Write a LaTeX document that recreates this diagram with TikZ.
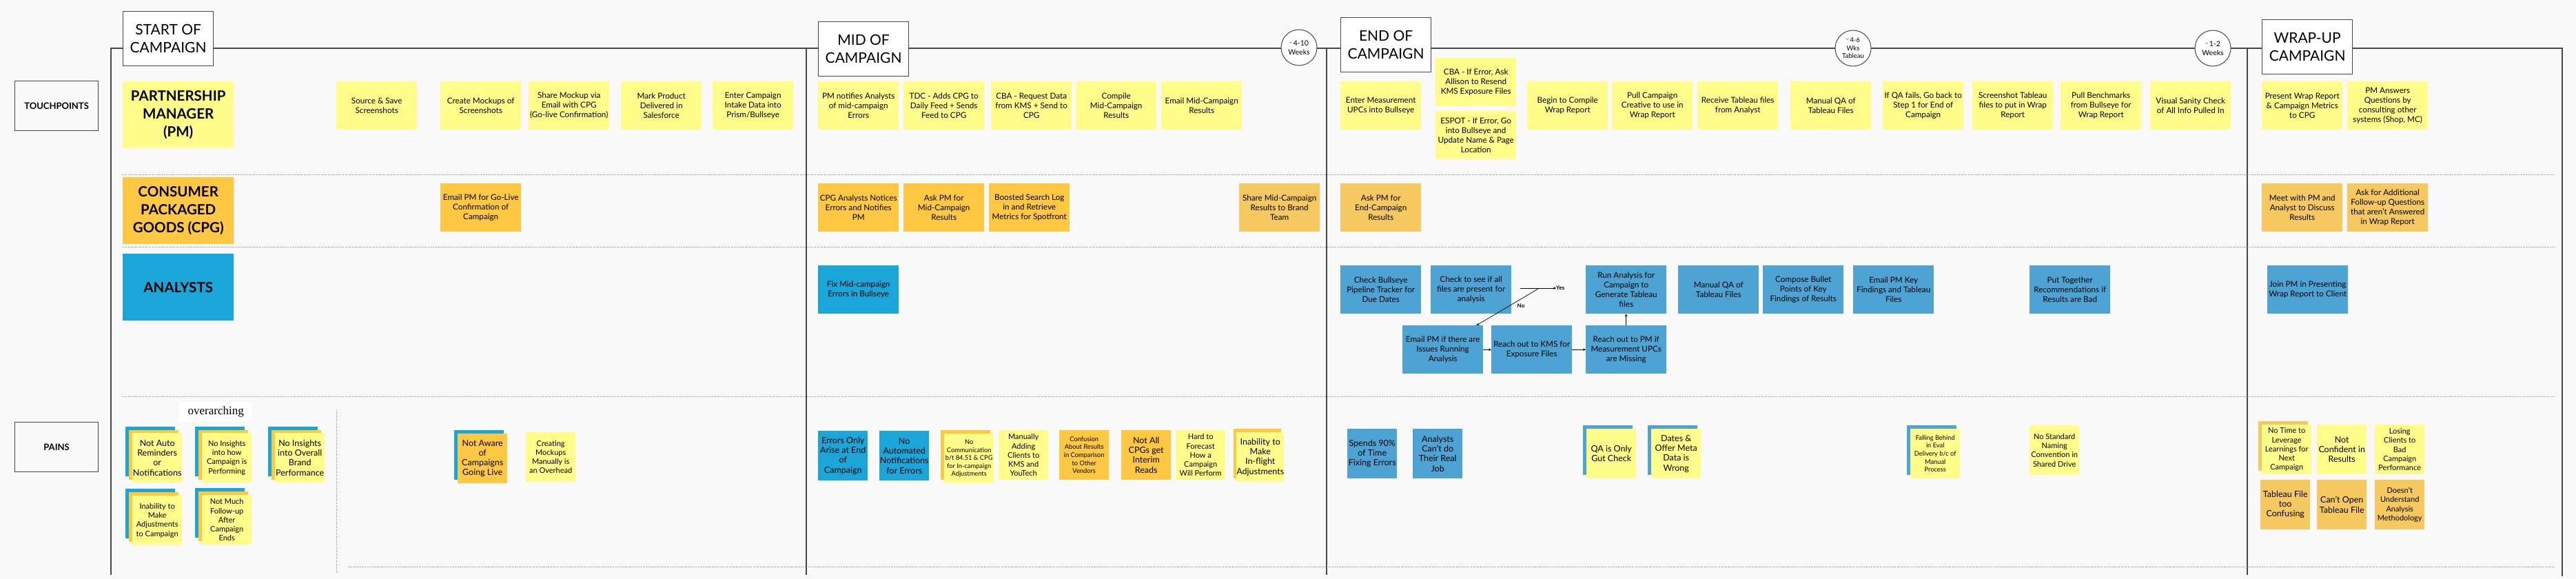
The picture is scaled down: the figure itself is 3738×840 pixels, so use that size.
\documentclass[tikz,border=0pt]{standalone}
\usepackage{fontspec}
\setmainfont{Lato}
\newfontfamily\notefont{Liberation Serif}
\usetikzlibrary{positioning}
\definecolor{pmyellow}{HTML}{FFFC8A}
\definecolor{cpgorange}{HTML}{FFC843}
\definecolor{cpgsoft}{HTML}{F5C960}
\definecolor{anblue}{HTML}{1BA6D9}
\definecolor{ansoft}{HTML}{4DA4D4}
\definecolor{canvas}{HTML}{F9F9F9}
\definecolor{ink}{HTML}{474747}

\begin{document}
\begin{tikzpicture}[x=1pt,y=-1pt,every node/.style={inner sep=0pt,align=center,text=black},
  stk/.style={anchor=north west,minimum width=117pt,minimum height=70pt,font=\fontsize{11.7}{14}\selectfont},
  rolebox/.style={anchor=north west,minimum width=161pt,minimum height=97pt,font=\fontsize{20.5}{26}\selectfont\bfseries},
  pain/.style={anchor=north west,minimum width=72pt,minimum height=72pt,font=\fontsize{11}{13.2}\selectfont},
  painL/.style={pain,font=\fontsize{12.5}{14.3}\selectfont},
  painS/.style={pain,font=\fontsize{9.3}{11.6}\selectfont},
  pmfill/.style={fill=pmyellow},cpgfill/.style={fill=cpgorange},cpgsoftfill/.style={fill=cpgsoft},
  anfill/.style={fill=anblue},ansoftfill/.style={fill=ansoft},
  phasebox/.style={anchor=north west,draw=ink,line width=1.2pt,fill=white,minimum width=131pt,minimum height=79pt,font=\fontsize{21}{26}\selectfont},
  lanebox/.style={anchor=north west,draw=ink,line width=1.1pt,minimum width=121pt,minimum height=72pt,font=\fontsize{13}{15}\selectfont\bfseries},
  wk/.style={circle,draw=ink,line width=1pt,fill=white,minimum size=52pt,font=\fontsize{10.5}{12.5}\selectfont},
  lanesep/.style={ink!70,dash pattern=on 1.2pt off 1.3pt,line width=0.9pt},
  rail/.style={ink,line width=1.2pt},
  arr/.style={->,>=stealth,line width=0.7pt,black},
  flag/.style={font=\fontsize{8}{9}\selectfont\bfseries}]
\fill[canvas] (0,0) rectangle (3738,840);
\useasboundingbox (0,0) rectangle (3738,840);

% timeline and phase columns
\draw[rail] (161,834) -- (161,70) -- (3718,70) -- (3718,836);
\draw[rail] (1170,70) -- (1170,834);
\draw[rail] (1925,70) -- (1925,834);
\draw[rail] (3261,70) -- (3261,834);

% lane separators
\draw[lanesep] (178,253) -- (3706,253);
\draw[lanesep] (178,358) -- (3706,358);
\draw[lanesep] (178,575) -- (3706,575);
\draw[lanesep] (505,822) -- (3706,822);
\draw[lanesep] (488,595) -- (488,832);

\node[phasebox] (start) at (178,16) {START OF\\CAMPAIGN};
\node[phasebox] (mid) at (1187,31) {MID OF\\CAMPAIGN};
\node[phasebox] (end) at (1945,25) {END OF\\CAMPAIGN};
\node[phasebox] (wrap) at (3282,28) {WRAP-UP\\CAMPAIGN};
\node[wk] (w1) at (1885,69) {\raisebox{2pt}{\fontsize{7}{7}\selectfont\textasciitilde}\,4-10\\Weeks};
\node[wk,font=\fontsize{9.5}{11.5}\selectfont] (w2) at (2689,70) {\raisebox{2pt}{\fontsize{7}{7}\selectfont\textasciitilde}\,4-6\\Wks\\Tableau};
\node[wk] (w3) at (3211,70) {\raisebox{2pt}{\fontsize{7}{7}\selectfont\textasciitilde}\,1-2\\Weeks};

\node[lanebox] (touch) at (21,117) {TOUCHPOINTS};
\node[lanebox] (pains) at (21,612) {PAINS};
\node[rolebox,pmfill] (rpm) at (178,118) {PARTNERSHIP\\MANAGER\\(PM)};
\node[rolebox,cpgfill] (rcpg) at (178,257) {CONSUMER\\PACKAGED\\GOODS (CPG)};
\node[rolebox,anfill] (ran) at (178,368) {ANALYSTS};

% partnership manager
\node[stk,pmfill] (pm1) at (488,118) {Source \& Save\\Screenshots};
\node[stk,pmfill] (pm2) at (639,118) {Create Mockups of\\Screenshots};
\node[stk,pmfill] (pm3) at (767,118) {Share Mockup via\\Email with CPG\\(Go-live Confirmation)};
\node[stk,pmfill] (pm4) at (901,118) {Mark Product\\Delivered in\\Salesforce};
\node[stk,pmfill] (pm5) at (1034,118) {Enter Campaign\\Intake Data into\\Prism/Bullseye};
\node[stk,pmfill] (pm6) at (1187,118) {PM notifies Analysts\\of mid-campaign\\Errors};
\node[stk,pmfill] (pm7) at (1311,118) {TDC - Adds CPG to\\Daily Feed + Sends\\Feed to CPG};
\node[stk,pmfill] (pm8) at (1438,118) {CBA - Request Data\\from KMS + Send to\\CPG};
\node[stk,pmfill] (pm9) at (1561,118) {Compile\\Mid-Campaign\\Results};
\node[stk,pmfill] (pm10) at (1685,118) {Email Mid-Campaign\\Results};
\node[stk,pmfill] (pm11) at (1945,118) {Enter Measurement\\UPCs into Bullseye};
\node[stk,pmfill] (pm12) at (2083,84) {CBA - If Error, Ask\\Allison to Resend\\KMS Exposure Files};
\node[stk,pmfill] (pm13) at (2083,161) {ESPOT - If Error, Go\\into Bullseye and\\Update Name \& Page\\Location};
\node[stk,pmfill] (pm14) at (2216,118) {Begin to Compile\\Wrap Report};
\node[stk,pmfill] (pm15) at (2339,118) {Pull Campaign\\Creative to use in\\Wrap Report};
\node[stk,pmfill] (pm16) at (2463,118) {Receive Tableau files\\from Analyst};
\node[stk,pmfill] (pm17) at (2598,118) {Manual QA of\\Tableau Files};
\node[stk,pmfill] (pm18) at (2732,118) {If QA fails, Go back to\\Step 1 for End of\\Campaign};
\node[stk,pmfill] (pm19) at (2862,118) {Screenshot Tableau\\files to put in Wrap\\Report};
\node[stk,pmfill] (pm20) at (2990,118) {Pull Benchmarks\\from Bullseye for\\Wrap Report};
\node[stk,pmfill] (pm21) at (3120,118) {Visual Sanity Check\\of All Info Pulled In};
\node[stk,pmfill] (pm22) at (3282,118) {Present Wrap Report\\\& Campaign Metrics\\to CPG};
\node[stk,pmfill] (pm23) at (3406,118) {PM Answers\\Questions by\\consulting other\\systems (Shop, MC)};

% consumer packaged goods
\node[stk,cpgfill] (cp1) at (639,266) {Email PM for Go-Live\\Confirmation of\\Campaign};
\node[stk,cpgfill] (cp2) at (1187,266) {CPG Analysts Notices\\Errors and Notifies\\PM};
\node[stk,cpgfill] (cp3) at (1311,266) {Ask PM for\\Mid-Campaign\\Results};
\node[stk,cpgfill] (cp4) at (1435,266) {Boosted Search Log\\in and Retrieve\\Metrics for Spotfront};
\node[stk,cpgsoftfill] (cp5) at (1798,266) {Share Mid-Campaign\\Results to Brand\\Team};
\node[stk,cpgsoftfill] (cp6) at (1945,266) {Ask PM for\\End-Campaign\\Results};
\node[stk,cpgsoftfill] (cp7) at (3282,266) {Meet with PM and\\Analyst to Discuss\\Results};
\node[stk,cpgsoftfill] (cp8) at (3406,266) {Ask for Additional\\Follow-up Questions\\that aren't Answered\\in Wrap Report};

% analysts
\node[stk,anfill] (an1) at (1187,385) {Fix Mid-campaign\\Errors in Bullseye};
\node[stk,ansoftfill] (an2) at (1945,385) {Check Bullseye\\Pipeline Tracker for\\Due Dates};
\node[stk,ansoftfill] (an3) at (2076,385) {Check to see if all\\files are present for\\analysis};
\node[stk,ansoftfill] (an4) at (2301,385) {Run Analysis for\\Campaign to\\Generate Tableau\\files};
\node[stk,ansoftfill] (an5) at (2435,385) {Manual QA of\\Tableau Files};
\node[stk,ansoftfill] (an6) at (2558,385) {Compose Bullet\\Points of Key\\Findings of Results};
\node[stk,ansoftfill] (an7) at (2689,385) {Email PM Key\\Findings and Tableau\\Files};
\node[stk,ansoftfill] (an8) at (2945,385) {Put Together\\Recommendations if\\Results are Bad};
\node[stk,ansoftfill] (an9) at (3290,385) {Join PM in Presenting\\Wrap Report to Client};
\node[stk,ansoftfill] (an10) at (2035,472) {Email PM if there are\\Issues Running\\Analysis};
\node[stk,ansoftfill] (an11) at (2164,472) {Reach out to KMS for\\Exposure Files};
\node[stk,ansoftfill] (an12) at (2301,472) {Reach out to PM if\\Measurement UPCs\\are Missing};
\coordinate (fork) at (2206,418);
\coordinate (nofork) at (2232,419);
\node[flag,anchor=west] (yes) [right=52pt of fork] {Yes};
\node[flag] (no) at (2207,444) {No};
\draw[arr] (fork) -- (yes.west);
\draw[arr] (nofork) -- ([xshift=-10pt]an10.north east);
\draw[arr] (an10.east) -- (an11.west);
\draw[arr] (an11.east) -- (an12.west);
\draw[arr] (an12.north) -- (an4.south);

% pains
\node[fill=white,minimum width=106pt,minimum height=29pt,anchor=north west,font=\notefont\fontsize{17}{19}\selectfont] (over) at (260,583) {overarching};
\node[pain,anfill] (p1a) at (182,619) {};
\node[pain,cpgfill] (p1c) at (187,624) {};
\node[painL,pmfill] (p1) at (192,628) {Not Auto\\Reminders\\or\\Notifications};
\node[pain,anfill] (p2a) at (283,619) {};
\node[pain,cpgfill] (p2c) at (288,624) {};
\node[pain,pmfill] (p2) at (293,628) {No Insights\\into how\\Campaign is\\Performing};
\node[pain,anfill] (p3a) at (389,619) {};
\node[pain,cpgfill] (p3c) at (394,624) {};
\node[painL,pmfill] (p3) at (399,628) {No Insights\\into Overall\\Brand\\Performance};
\node[pain,anfill] (p4a) at (182,709) {};
\node[pain,cpgfill] (p4c) at (187,714) {};
\node[pain,pmfill] (p4) at (192,719) {Inability to\\Make\\Adjustments\\to Campaign};
\node[pain,anfill] (p5a) at (283,708) {};
\node[pain,cpgfill] (p5c) at (288,713) {};
\node[pain,pmfill] (p5) at (293,718) {Not Much\\Follow-up\\After\\Campaign\\Ends};
\node[pain,anfill] (p6a) at (659,624) {};
\node[painL,cpgfill] (p6) at (664,629) {Not Aware\\of\\Campaigns\\Going Live};
\node[pain,pmfill] (p7) at (763,627) {Creating\\Mockups\\Manually is\\an Overhead};
\node[painL,anfill] (p8) at (1187,625) {Errors Only\\Arise at End\\of\\Campaign};
\node[painL,anfill] (p9) at (1276,625) {No\\Automated\\Notifications\\for Errors};
\node[pain,cpgfill] (p10c) at (1365,624) {};
\node[painS,pmfill] (p10) at (1370,629) {No\\Communication\\b/t 84.51 \& CPG\\for In-campaign\\Adjustments};
\node[pain,pmfill] (p11) at (1449,624) {Manually\\Adding\\Clients to\\KMS and\\YouTech};
\node[painS,cpgfill] (p12) at (1537,624) {Confusion\\About Results\\in Comparison\\to Other\\Vendors};
\node[painL,cpgfill] (p13) at (1627,624) {Not All\\CPGs get\\Interim\\Reads};
\node[pain,pmfill] (p14) at (1706,624) {Hard to\\Forecast\\How a\\Campaign\\Will Perform};
\node[pain,cpgfill,minimum width=69pt] (p15c) at (1790,622) {};
\node[painL,pmfill,minimum width=69pt] (p15) at (1794,627) {Inability to\\Make\\In-flight\\Adjustments};
\node[painL,ansoftfill] (p16) at (1955,622) {Spends 90\%\\of Time\\Fixing Errors};
\node[painL,ansoftfill] (p17) at (2050,622) {Analysts\\Can't do\\Their Real\\Job};
\node[pain,ansoftfill] (p18a) at (2297,617) {};
\node[painL,pmfill] (p18) at (2302,622) {QA is Only\\Gut Check};
\node[pain,ansoftfill] (p19a) at (2391,617) {};
\node[painL,pmfill] (p19) at (2396,622) {Dates \&\\Offer Meta\\Data is\\Wrong};
\node[pain,ansoftfill] (p20a) at (2767,617) {};
\node[painS,pmfill] (p20) at (2772,622) {Falling Behind\\in Eval\\Delivery b/c of\\Manual\\Process};
\node[pain,pmfill] (p21) at (2945,617) {No Standard\\Naming\\Convention in\\Shared Drive};
\node[pain,cpgsoftfill] (p22c) at (3277,611) {};
\node[pain,pmfill] (p22) at (3282,616) {No Time to\\Leverage\\Learnings for\\Next\\Campaign};
\node[painL,pmfill] (p23) at (3362,616) {Not\\Confident in\\Results};
\node[pain,pmfill] (p24) at (3446,616) {Losing\\Clients to\\Bad\\Campaign\\Performance};
\node[painL,cpgsoftfill] (p25) at (3280,696) {Tableau File\\too\\Confusing};
\node[painL,cpgsoftfill] (p26) at (3362,696) {Can't Open\\Tableau File};
\node[pain,cpgsoftfill] (p27) at (3446,696) {Doesn't\\Understand\\Analysis\\Methodology};
\end{tikzpicture}
\end{document}
